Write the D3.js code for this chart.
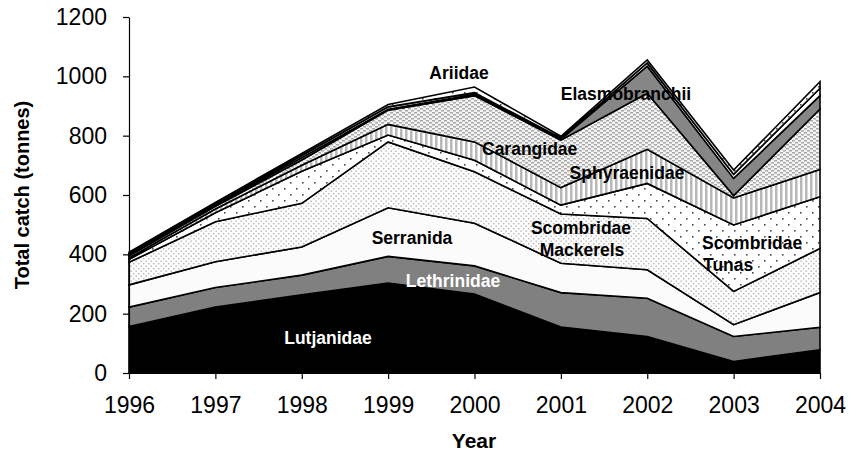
<!DOCTYPE html>
<html>
<head>
<meta charset="utf-8">
<script src="https://cdn.jsdelivr.net/npm/d3@7"></script>
<style>
  html, body { margin: 0; padding: 0; background: #fff; }
  svg { display: block; font-family: "Liberation Sans", Arial, sans-serif; }
</style>
</head>
<body>
<svg id="chart" width="849" height="453"></svg>
<script>
// Catch by family, tonnes per year
const years = [1996, 1997, 1998, 1999, 2000, 2001, 2002, 2003, 2004];
const lutjanidae     = [157, 222, 264, 303, 266, 155, 123,  39,  78];
const lethrinidae    = [ 65,  66,  66,  90,  95, 116, 129,  84,  76];
const serranida      = [ 75,  87,  95, 164, 144,  99,  96,  40, 117];
const mackerels      = [ 76, 135, 147, 222, 173, 166, 173, 112, 149];
const tunas          = [ 10,  30, 108,  23,  39,  30, 118, 224, 174];
const sphyraenidae   = [  5,  13,  20,  36,  62,  59, 115,  91,  92];
const carangidae     = [  7,   9,  18,  48, 156, 160, 189,   8, 204];
const elasmobranchii = [  4,   4,   8,   3,   4,   3,  91,  58,  45];
const others         = [  4,   4,   7,   8,   6,   4,  11,  14,  25];
const ariidae        = [  4,   5,   7,   8,  19,   6,  10,  14,  22];
const yTicks = [0, 200, 400, 600, 800, 1000, 1200];

const seriesDefs = [
  { key: "lutjanidae",     values: lutjanidae,     fill: "#000000" },
  { key: "lethrinidae",    values: lethrinidae,    fill: "#808080" },
  { key: "serranida",      values: serranida,      fill: "#fbfbfb" },
  { key: "mackerels",      values: mackerels,      fill: "url(#finedots)" },
  { key: "tunas",          values: tunas,          fill: "url(#sparsedots)" },
  { key: "sphyraenidae",   values: sphyraenidae,   fill: "url(#vstripes)" },
  { key: "carangidae",     values: carangidae,     fill: "url(#dashes)" },
  { key: "elasmobranchii", values: elasmobranchii, fill: "#868686" },
  { key: "others",         values: others,         fill: "#ffffff" },
  { key: "ariidae",        values: ariidae,        fill: "url(#sparsedots)" }
];

const rows = years.map((yr, i) => {
  const r = { year: yr };
  seriesDefs.forEach(s => { r[s.key] = s.values[i]; });
  return r;
});

const svg = d3.select("#chart");
const x = d3.scaleLinear().domain([1996, 2004]).range([129, 820]);
const y = d3.scaleLinear().domain([0, 1200]).range([373, 17]);

// fill patterns
const defs = svg.append("defs");
const fine = defs.append("pattern").attr("id", "finedots")
  .attr("patternUnits", "userSpaceOnUse").attr("width", 5).attr("height", 5);
fine.append("rect").attr("width", 5).attr("height", 5).attr("fill", "#fdfdfd");
fine.append("rect").attr("x", 0.5).attr("y", 0.5).attr("width", 1.4).attr("height", 1.4).attr("fill", "#b8b8b8");
fine.append("rect").attr("x", 3).attr("y", 3).attr("width", 1.4).attr("height", 1.4).attr("fill", "#b8b8b8");

const sparse = defs.append("pattern").attr("id", "sparsedots")
  .attr("patternUnits", "userSpaceOnUse").attr("width", 12).attr("height", 12);
sparse.append("rect").attr("width", 12).attr("height", 12).attr("fill", "#ffffff");
sparse.append("rect").attr("x", 2).attr("y", 2).attr("width", 1.6).attr("height", 1.6).attr("fill", "#4a4a4a");
sparse.append("rect").attr("x", 8).attr("y", 8).attr("width", 1.6).attr("height", 1.6).attr("fill", "#4a4a4a");

const stripes = defs.append("pattern").attr("id", "vstripes")
  .attr("patternUnits", "userSpaceOnUse").attr("width", 5).attr("height", 5);
stripes.append("rect").attr("width", 5).attr("height", 5).attr("fill", "#ffffff");
stripes.append("rect").attr("x", 0).attr("y", 0).attr("width", 2.5).attr("height", 5).attr("fill", "#b8b8b8");

const dashes = defs.append("pattern").attr("id", "dashes")
  .attr("patternUnits", "userSpaceOnUse").attr("width", 6).attr("height", 4);
dashes.append("rect").attr("width", 6).attr("height", 4).attr("fill", "#f4f4f4");
dashes.append("rect").attr("x", 0).attr("y", 0).attr("width", 3).attr("height", 1.5).attr("fill", "#a8a8a8");
dashes.append("rect").attr("x", 3).attr("y", 2).attr("width", 3).attr("height", 1.5).attr("fill", "#a8a8a8");

// stacked layers
const stack = d3.stack().keys(seriesDefs.map(s => s.key));
const layers = stack(rows);
const area = d3.area()
  .x(d => x(d.data.year))
  .y0(d => y(d[0]))
  .y1(d => y(d[1]));

svg.append("g").selectAll("path")
  .data(layers)
  .join("path")
  .attr("d", area)
  .attr("fill", (d, i) => seriesDefs[i].fill)
  .attr("stroke", "#000")
  .attr("stroke-width", 1.6)
  .attr("stroke-linejoin", "miter");

// axes
const yAxis = svg.append("g").attr("transform", `translate(${x(1996)},0)`)
  .call(d3.axisLeft(y).tickValues(yTicks).tickFormat(d3.format("d"))
    .tickSize(6).tickPadding(16).tickSizeOuter(0));
const xAxis = svg.append("g").attr("transform", `translate(0,${y(0)})`)
  .call(d3.axisBottom(x).tickValues(years).tickFormat(d3.format("d"))
    .tickSize(6).tickPadding(18).tickSizeOuter(0));
[yAxis, xAxis].forEach(g => {
  g.select(".domain").attr("stroke", "#000").attr("stroke-width", 1.2);
  g.selectAll(".tick line").attr("stroke", "#000").attr("stroke-width", 1.2);
  g.selectAll(".tick text").attr("fill", "#000")
    .style("font-size", "23px").style("font-family", "'Liberation Sans', Arial, sans-serif");
});

// axis titles
svg.append("text").attr("x", 474).attr("y", 448).attr("text-anchor", "middle")
  .style("font-size", "21px").style("font-weight", "bold").text("Year");
svg.append("text").attr("transform", "translate(29,195) rotate(-90)").attr("text-anchor", "middle")
  .style("font-size", "20px").style("font-weight", "bold").text("Total catch (tonnes)");

// layer labels
const labels = [
  { t: "Ariidae",        x: 459, y: 79,  a: "middle", c: "#000" },
  { t: "Elasmobranchii", x: 626, y: 100, a: "middle", c: "#000" },
  { t: "Carangidae",     x: 482, y: 155, a: "start",  c: "#000" },
  { t: "Sphyraenidae",   x: 627, y: 179, a: "middle", c: "#000" },
  { t: "Scombridae",     x: 581, y: 234, a: "middle", c: "#000" },
  { t: "Mackerels",      x: 582, y: 256, a: "middle", c: "#000" },
  { t: "Scombridae",     x: 702, y: 249, a: "start",  c: "#000" },
  { t: "Tunas",          x: 703, y: 271, a: "start",  c: "#000" },
  { t: "Serranida",      x: 412, y: 244, a: "middle", c: "#000" },
  { t: "Lethrinidae",    x: 453, y: 287, a: "middle", c: "#fff" },
  { t: "Lutjanidae",     x: 328, y: 344, a: "middle", c: "#fff" }
];
svg.append("g").selectAll("text")
  .data(labels)
  .join("text")
  .attr("x", d => d.x).attr("y", d => d.y)
  .attr("text-anchor", d => d.a)
  .attr("fill", d => d.c)
  .style("font-size", "17.5px").style("font-weight", "bold")
  .text(d => d.t);
</script>
</body>
</html>
